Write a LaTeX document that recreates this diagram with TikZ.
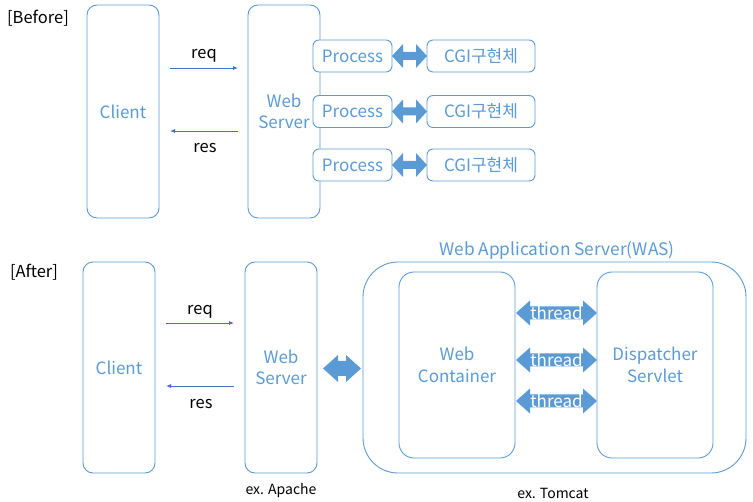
\documentclass[tikz,border=0pt]{standalone}
\usepackage{fontspec}
\setmainfont{Noto Sans CJK KR}
\usetikzlibrary{arrows.meta,calc}
\definecolor{boxblue}{HTML}{5B9BD5}
\definecolor{lineblue}{HTML}{4472C4}
\newcommand\fatarrow[5]{%
  \fill[boxblue] let \p1=(#1), \p2=(#2) in
    (\x1,\y1) -- (\x1+#5,\y1+#4) -- (\x1+#5,\y1+#3) -- (\x2-#5,\y1+#3) -- (\x2-#5,\y1+#4)
    -- (\x2,\y1) -- (\x2-#5,\y1-#4) -- (\x2-#5,\y1-#3) -- (\x1+#5,\y1-#3) -- (\x1+#5,\y1-#4) -- cycle;}
\begin{document}
\begin{tikzpicture}[x=1pt,y=-1pt,
  box/.style={draw=boxblue, line width=0.9pt, fill=white, text=boxblue,
    font=\fontsize{17}{21.5}\selectfont, align=center, inner sep=0pt, outer sep=0pt},
  bigbox/.style={box, rounded corners=10pt, minimum width=72pt},
  smallbox/.style={box, rounded corners=6pt, minimum height=32pt},
  blk/.style={text=black, font=\fontsize{16.5}{19}\selectfont, inner sep=0pt},
  note/.style={text=black, font=\fontsize{14}{16}\selectfont, inner sep=0pt},
  thin arrow/.style={draw=lineblue, line width=0.8pt, -{Latex[length=5pt,width=4pt]}},
  threadtxt/.style={text=white, font=\fontsize{17}{19}\selectfont, inner sep=0pt}]
\useasboundingbox (0,0) rectangle (753,502);

% ---------- Before ----------
\node[blk] (before) at (38,18) {[Before]};
\node[bigbox, minimum height=213pt] (client1) at (123,111.5) {Client};
\node[bigbox, minimum height=213pt] (web1) at (284,111.5) {Web\\Server};
\foreach \i/\y in {1/56,2/111.5,3/165}{
  \node[smallbox, minimum width=79pt] (proc\i) at (352.5,\y) {Process};
  \node[smallbox, minimum width=108pt] (cgi\i) at (481,\y) {CGI구현체};
  \fatarrow{proc\i.east}{cgi\i.west}{4pt}{12pt}{11pt}
}
\coordinate (req1s) at (170,68);
\coordinate (req1e) at (238,68);
\coordinate (res1s) at (238,131);
\coordinate (res1e) at (170,131);
\draw[thin arrow] (req1s) -- (req1e);
\draw[thin arrow] (res1s) -- (res1e);
\node[blk] (req1) at (204,56) {req};
\node[blk] (res1) at (205,148) {res};

% ---------- After ----------
\node[blk] (after) at (34,272) {[After]};
\node[bigbox, minimum height=211pt] (client2) at (119,367.5) {Client};
\node[bigbox, minimum height=211pt] (web2) at (281,367.5) {Web\\Server};
\node[box, fill=none, rounded corners=35pt, minimum width=383pt, minimum height=211pt] (was) at (554.5,367.5) {};
\node[text=boxblue, font=\fontsize{17.3}{19}\selectfont, inner sep=0pt] (waslabel) at (557,250) {Web Application Server(WAS)};
\node[box, rounded corners=15pt, minimum width=116pt, minimum height=186pt] (wc) at (457,365) {Web\\Container};
\node[box, rounded corners=15pt, minimum width=116pt, minimum height=186pt] (ds) at (655,365) {Dispatcher\\Servlet};

\coordinate (req2s) at (166,323);
\coordinate (req2e) at (234,323);
\coordinate (res2s) at (234,386);
\coordinate (res2e) at (166,386);
\draw[thin arrow] (req2s) -- (req2e);
\draw[thin arrow] (res2s) -- (res2e);
\node[blk] (req2) at (200,312) {req};
\node[blk] (res2) at (201,404) {res};

\coordinate (wasa) at ($(web2.east)+(6,1)$);
\coordinate (wasb) at ($(was.west)+(-2,1)$);
\fatarrow{wasa}{wasb}{7.5pt}{13.5pt}{15pt}

\foreach \i/\y in {1/313,2/360,3/401}{
  \coordinate (ta\i) at ($(wc.east |- 0,\y)+(1,0)$);
  \coordinate (tb\i) at (ds.west |- 0,\y);
  \fatarrow{ta\i}{tb\i}{6.5pt}{12.5pt}{14pt}
  \node[threadtxt] (thread\i) at ($(ta\i)!0.5!(tb\i)$) {thread};
}

\node[note] (apache) at (281,491) {ex. Apache};
\node[note] (tomcat) at (553,493) {ex. Tomcat};
\end{tikzpicture}
\end{document}
